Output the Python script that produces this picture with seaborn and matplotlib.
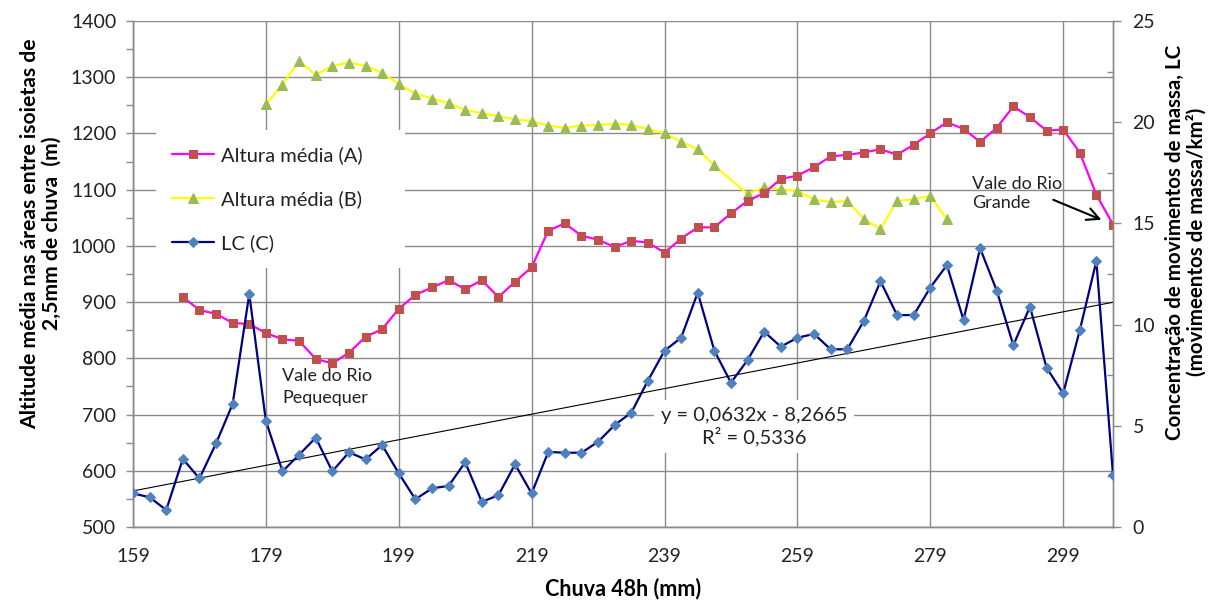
import numpy as np
import pandas as pd
import matplotlib
matplotlib.use("Agg")
import matplotlib.pyplot as plt
import seaborn as sns

# Chuva acumulada em 48 h (mm)
chuva = [159.0, 161.5, 164.0, 166.5, 169.0, 171.5, 174.0, 176.5, 179.0, 181.5,
         184.0, 186.5, 189.0, 191.5, 194.0, 196.5, 199.0, 201.5, 204.0, 206.5,
         209.0, 211.5, 214.0, 216.5, 219.0, 221.5, 224.0, 226.5, 229.0, 231.5,
         234.0, 236.5, 239.0, 241.5, 244.0, 246.5, 249.0, 251.5, 254.0, 256.5,
         259.0, 261.5, 264.0, 266.5, 269.0, 271.5, 274.0, 276.5, 279.0, 281.5,
         284.0, 286.5, 289.0, 291.5, 294.0, 296.5, 299.0, 301.5, 304.0, 306.5]

# Altura média (A), em metros
altura_a = [np.nan, np.nan, np.nan, 909, 886, 879, 863, 861, 845, 834,
            831, 799, 791, 810, 838, 852, 888, 913, 926, 939,
            923, 939, 909, 936, 962, 1027, 1040, 1018, 1011, 998,
            1009, 1006, 988, 1013, 1033, 1033, 1058, 1080, 1094, 1119,
            1125, 1140, 1159, 1162, 1166, 1172, 1162, 1180, 1200, 1220,
            1208, 1185, 1210, 1248, 1229, 1205, 1207, 1166, 1091, 1038]

# Altura média (B), em metros
altura_b = [np.nan, np.nan, np.nan, np.nan, np.nan, np.nan, np.nan, np.nan, 1252, 1287,
            1329, 1304, 1320, 1326, 1320, 1308, 1288, 1271, 1262, 1254,
            1242, 1236, 1231, 1225, 1222, 1214, 1210, 1214, 1215, 1217,
            1215, 1208, 1200, 1185, 1172, 1143, np.nan, 1092, 1105, 1101,
            1098, 1083, 1078, 1080, 1048, 1030, 1080, 1083, 1089, 1047,
            np.nan, np.nan, np.nan, np.nan, np.nan, np.nan, np.nan, np.nan, np.nan, np.nan]

# LC (C): concentração de movimentos de massa por km²
lc = [1.66, 1.47, 0.84, 3.36, 2.40, 4.13, 6.08, 11.51, 5.24, 2.75,
      3.57, 4.41, 2.75, 3.69, 3.34, 4.05, 2.65, 1.37, 1.91, 2.03,
      3.20, 1.24, 1.57, 3.10, 1.66, 3.71, 3.67, 3.67, 4.21, 5.04,
      5.65, 7.23, 8.71, 9.35, 11.58, 8.71, 7.13, 8.25, 9.65, 8.91,
      9.35, 9.54, 8.78, 8.78, 10.18, 12.14, 10.47, 10.47, 11.83, 12.94,
      10.23, 13.77, 11.68, 8.98, 10.88, 7.87, 6.60, 9.72, 13.14, 2.57]

# Linha de tendência linear de LC
slope, intercept, r2 = 0.0632, -8.2665, 0.5336

x_major = [159, 179, 199, 219, 239, 259, 279, 299]
left_ticks = [500, 600, 700, 800, 900, 1000, 1100, 1200, 1300, 1400]
right_ticks = [0, 5, 10, 15, 20, 25]

df = pd.DataFrame({"chuva": chuva, "A": altura_a, "B": altura_b, "LC": lc})
df_a = df[["chuva", "A"]].dropna()
df_b = df[["chuva", "B"]].dropna()
df_lc = df[["chuva", "LC"]].dropna()
df["trend"] = slope * df["chuva"] + intercept

sns.set_style("white")
plt.rcParams["font.family"] = ["Lato", "DejaVu Sans"]

GRID = "#8a8a8a"
TXT = "#222222"

fig = plt.figure(figsize=(12.17, 6.02), dpi=100)
ax = fig.add_axes([133 / 1217, 1 - 527 / 602, 980 / 1217, 506 / 602])
ax2 = ax.twinx()

sns.lineplot(data=df_b, x="chuva", y="B", ax=ax, color="#FFFF00", lw=1.6,
             marker="^", markersize=6.5, markerfacecolor="#9BBB59",
             markeredgecolor="#9BBB59", label="Altura média (B)", legend=False,
             zorder=3)
sns.lineplot(data=df_a, x="chuva", y="A", ax=ax, color="#FF00FF", lw=1.6,
             marker="s", markersize=5.5, markerfacecolor="#C0504D",
             markeredgecolor="#C0504D", label="Altura média (A)", legend=False,
             zorder=4)
sns.lineplot(data=df, x="chuva", y="trend", ax=ax2, color="black", lw=0.8,
             legend=False, zorder=2)
sns.lineplot(data=df_lc, x="chuva", y="LC", ax=ax2, color="#000080", lw=1.6,
             marker="D", markersize=4.8, markerfacecolor="#4F81BD",
             markeredgecolor="#4F81BD", label="LC (C)", legend=False, zorder=3)

ax.set_xlim(159, 306.5)
ax.set_ylim(500, 1400)
ax2.set_ylim(0, 25)

ax.set_xticks(x_major)
ax.set_xticks(np.arange(164, 306, 5), minor=True)
ax.set_yticks(left_ticks)
ax.set_yticks(np.arange(550, 1400, 100), minor=True)
ax2.set_yticks(right_ticks)
ax2.set_yticks(np.arange(2.5, 25, 5), minor=True)

ax.grid(True, which="major", color=GRID, lw=1.0)
ax.set_axisbelow(True)
ax2.grid(False)

for a in (ax, ax2):
    for s in a.spines.values():
        s.set_color(GRID)
        s.set_linewidth(1.0)
    a.spines["top"].set_visible(False)

ax.tick_params(axis="x", which="major", direction="out", length=7, width=1,
               color=GRID, pad=8, labelsize=14, labelcolor=TXT)
ax.tick_params(axis="x", which="minor", direction="out", length=4, width=1,
               color=GRID)
ax.tick_params(axis="y", which="both", direction="out", length=5, width=1,
               color=GRID, pad=7, labelsize=14, labelcolor=TXT)
ax2.tick_params(axis="y", which="major", direction="out", length=6, width=1,
                color=GRID, pad=8, labelsize=14, labelcolor=TXT)
ax2.tick_params(axis="y", which="minor", direction="in", length=4, width=1,
                color=GRID)
ax2.tick_params(axis="x", which="both", bottom=False, labelbottom=False)

ax.set_xlabel("Chuva 48h (mm)", fontsize=15.5, fontweight="bold",
              color="black", labelpad=9)
ax.set_ylabel("Altitude média nas áreas entre isoietas de\n2,5mm de chuva  (m)",
              fontsize=15.2, fontweight="bold", color="black",
              linespacing=1.1)
ax2.set_ylabel("Concentração de movimentos de massa, LC\n(movimeentos de massa/km²)",
               fontsize=14.8, fontweight="bold", color="black",
               linespacing=1.1)
ax.yaxis.set_label_coords(-0.0724, 0.58)
ax2.yaxis.set_label_coords(1.053, 0.563)

# Legenda combinada dos dois eixos
h1, l1 = ax.get_legend_handles_labels()
h2, l2 = ax2.get_legend_handles_labels()
order = {"Altura média (A)": 0, "Altura média (B)": 1, "LC (C)": 2}
pairs = sorted(zip(h1 + h2, l1 + l2), key=lambda p: order[p[1]])
leg = ax2.legend([p[0] for p in pairs], [p[1] for p in pairs],
                 loc="upper left", bbox_to_anchor=(0.0235, 0.508, 0.254, 0.277),
                 mode="expand", borderaxespad=0, frameon=True,
                 facecolor="white", edgecolor="none", framealpha=1,
                 fancybox=False, fontsize=14.5, handlelength=2.1,
                 handletextpad=0.35, labelspacing=1.3, borderpad=0.8)
for t in leg.get_texts():
    t.set_color(TXT)
leg.set_zorder(10)

# Equação da tendência
ax2.text(252.5, 4.95,
         "y = 0,0632x - 8,2665\nR² = 0,5336", ha="center", va="center",
         fontsize=14.5, color=TXT, linespacing=1.15, multialignment="center",
         bbox=dict(facecolor="white", edgecolor="none", pad=5), zorder=9)

# Anotações dos vales
ax.text(181.5, 782, "Vale do Rio\nPequequer", ha="left", va="top",
        fontsize=13, color=TXT, linespacing=1.4, zorder=6)
ax.text(285.3, 1124, "Vale do Rio\nGrande", ha="left", va="top",
        fontsize=13, color=TXT, linespacing=1.25, zorder=6)
ax.annotate("", xy=(306.5, 1038), xytext=(297.5, 1082),
            arrowprops=dict(arrowstyle="->", color="black", lw=1.5,
                            mutation_scale=22, shrinkA=0, shrinkB=9),
            zorder=6)

fig.savefig("out.png", dpi=100)
